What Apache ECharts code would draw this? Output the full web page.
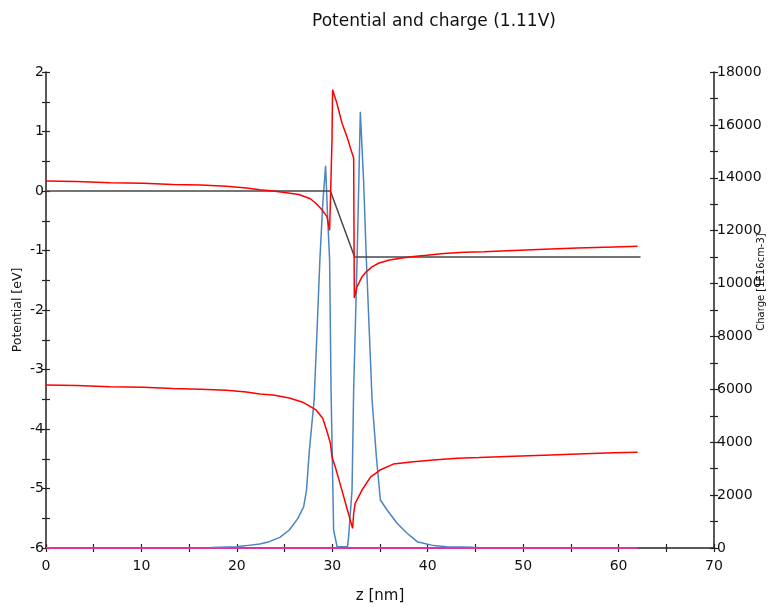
<!DOCTYPE html>
<html><head><meta charset="utf-8">
<script src="https://cdn.jsdelivr.net/npm/echarts@6/dist/echarts.min.js"></script>
<style>html,body{margin:0;padding:0;background:#fff}#c{width:774px;height:608px}</style>
</head><body><div id="c"></div>
<script>
const titleText = 'Potential and charge (1.11V)';
const xName = 'z [nm]';
const yLeftName = 'Potential [eV]';
const yRightName = 'Charge [1E16cm-3]';

// Fermi level (potential, eV)
const fermiZ = [0, 29.8, 32.34, 62.3];
const fermiE = [0, 0, -1.11, -1.11];

// Conduction band edge (eV)
const cbZ = [0, 3.2, 6.7, 10.2, 13.3, 16.2, 18.9, 21, 22.4, 23.8, 25.2, 26.5, 27.7, 28.3, 28.9, 29.44, 29.72, 29.86, 29.97, 30.03, 30.49, 31.02, 31.54, 32.24, 32.31, 32.59, 33.12, 33.6, 34.2, 34.9, 36.0, 37.5, 38.5, 39.9, 41.7, 43.8, 45.9, 49.0, 52.2, 55.7, 59.5, 62.0];
const cbE = [0.17, 0.16, 0.14, 0.13, 0.11, 0.10, 0.08, 0.05, 0.02, 0.0, -0.03, -0.06, -0.13, -0.21, -0.31, -0.43, -0.66, 0.18, 0.86, 1.70, 1.47, 1.14, 0.91, 0.55, -1.80, -1.61, -1.44, -1.35, -1.27, -1.21, -1.16, -1.12, -1.10, -1.08, -1.05, -1.03, -1.02, -1.00, -0.98, -0.96, -0.94, -0.93];

// Valence band edge (eV)
const vbZ = [0, 3.2, 6.7, 10.2, 13.3, 16.2, 18.9, 21, 22.4, 23.8, 25.5, 26.9, 28.3, 29.0, 29.5, 29.8, 29.97, 30.3, 30.8, 31.5, 32.13, 32.24, 32.4, 33.1, 34.0, 35.0, 36.4, 38.5, 40.6, 43.1, 45.4, 49.0, 52.2, 55.7, 59.5, 62.0];
const vbE = [-3.26, -3.27, -3.29, -3.30, -3.32, -3.33, -3.35, -3.38, -3.41, -3.43, -3.48, -3.55, -3.68, -3.82, -4.07, -4.24, -4.47, -4.63, -4.91, -5.31, -5.67, -5.42, -5.25, -5.03, -4.81, -4.69, -4.59, -4.55, -4.52, -4.49, -4.48, -4.46, -4.44, -4.42, -4.40, -4.39];

// Charge density (1E16 cm-3)
const chargeZ = [17.4, 20, 21, 22.4, 23.4, 24.5, 25.5, 26.4, 27.0, 27.3, 27.6, 28.1, 28.4, 28.7, 29.0, 29.3, 29.5, 29.72, 29.87, 30.14, 30.5, 31.6, 31.71, 32.07, 32.24, 32.6, 32.8, 32.94, 33.28, 33.57, 34.17, 34.62, 35.04, 35.74, 36.79, 37.84, 38.89, 40.63, 42.0, 44.8];
const chargeQ = [20, 50, 90, 150, 240, 400, 680, 1120, 1560, 2190, 3700, 5600, 8200, 10900, 13000, 14450, 12600, 10900, 5980, 680, 50, 50, 430, 2190, 5980, 10900, 14200, 16500, 13900, 10900, 5600, 3450, 1815, 1437, 934, 556, 240, 90, 50, 25];

// Baseline (magenta)
const baseZ = [0, 62];
const baseQ = [0, 0];

const zip = (a, b) => a.map((v, i) => [v, b[i]]);

const chart = echarts.init(document.getElementById('c'), null, {renderer: 'canvas'});
const axisCol = '#222';
const tickFont = {fontFamily: 'DejaVu Sans', fontSize: 14, color: '#111'};

function xAx(inside, main) {
  return {
    type: 'value', min: 0, max: 70, interval: 10, position: 'bottom',
    name: main ? xName : '', nameLocation: 'middle', nameGap: 41, nameMoveOverlap: false,
    nameTextStyle: {fontFamily: 'DejaVu Sans', fontSize: 15, color: '#111'},
    axisLine: {show: main, onZero: false, lineStyle: {color: axisCol, width: 1.5}},
    axisTick: {show: true, inside: inside, length: 4, lineStyle: {color: axisCol, width: 1.2}},
    minorTick: {show: true, splitNumber: 2, length: 4, lineStyle: {color: axisCol, width: 1.2}},
    axisLabel: {show: main, margin: 11, ...tickFont},
    splitLine: {show: false}
  };
}
function yLeft(inside, main) {
  return {
    type: 'value', min: -6, max: 2, interval: 1, position: 'left',
    name: main ? yLeftName : '', nameLocation: 'middle', nameGap: 22, nameRotate: 90, nameMoveOverlap: false,
    nameTextStyle: {fontFamily: 'DejaVu Sans', fontSize: 12.5, color: '#111'},
    axisLine: {show: main, onZero: false, lineStyle: {color: axisCol, width: 1.5}},
    axisTick: {show: true, inside: inside, length: 4, lineStyle: {color: axisCol, width: 1.2}},
    minorTick: {show: true, splitNumber: 2, length: 4, lineStyle: {color: axisCol, width: 1.2}},
    axisLabel: {show: main, margin: 2, ...tickFont},
    splitLine: {show: false}
  };
}
function yRight(inside, main) {
  return {
    type: 'value', min: 0, max: 18000, interval: 2000, position: 'right',
    name: main ? yRightName : '', nameLocation: 'middle', nameGap: 42, nameRotate: 90, nameMoveOverlap: false,
    nameTextStyle: {fontFamily: 'DejaVu Sans', fontSize: 10, color: '#111', padding: [0, 0, 0, 56]},
    axisLine: {show: main, onZero: false, lineStyle: {color: axisCol, width: 1.5}},
    axisTick: {show: true, inside: inside, length: 4, lineStyle: {color: axisCol, width: 1.2}},
    minorTick: {show: true, splitNumber: 2, length: 4, lineStyle: {color: axisCol, width: 1.2}},
    axisLabel: {show: main, margin: 3, formatter: v => String(v), ...tickFont},
    splitLine: {show: false}
  };
}

const lineBase = {type: 'line', showSymbol: false, symbol: 'none', animation: false, xAxisIndex: 0};

chart.setOption({
  animation: false,
  backgroundColor: '#fff',
  title: {text: titleText, left: 429, top: 8, textAlign: 'center',
    textStyle: {fontFamily: 'DejaVu Sans', fontSize: 17, fontWeight: 'normal', color: '#111'}},
  grid: {left: 46, right: 60, top: 72, bottom: 60, containLabel: false, outerBoundsMode: 'none'},
  xAxis: [xAx(false, true), xAx(true, false)],
  yAxis: [yLeft(false, true), yRight(false, true), yLeft(true, false), yRight(true, false)],
  series: [
    {...lineBase, name: 'Baseline', yAxisIndex: 1, data: zip(baseZ, baseQ), lineStyle: {color: '#e0329e', width: 2}, z: 3},
    {...lineBase, name: 'Charge', yAxisIndex: 1, data: zip(chargeZ, chargeQ), lineStyle: {color: '#4a84c2', width: 1.5}, z: 4},
    {...lineBase, name: 'Fermi', yAxisIndex: 0, data: zip(fermiZ, fermiE), lineStyle: {color: '#484848', width: 1.5}, z: 5},
    {...lineBase, name: 'Ec', yAxisIndex: 0, data: zip(cbZ, cbE), lineStyle: {color: '#ff0000', width: 1.5}, z: 6},
    {...lineBase, name: 'Ev', yAxisIndex: 0, data: zip(vbZ, vbE), lineStyle: {color: '#ff0000', width: 1.5}, z: 6}
  ]
});
</script></body></html>
